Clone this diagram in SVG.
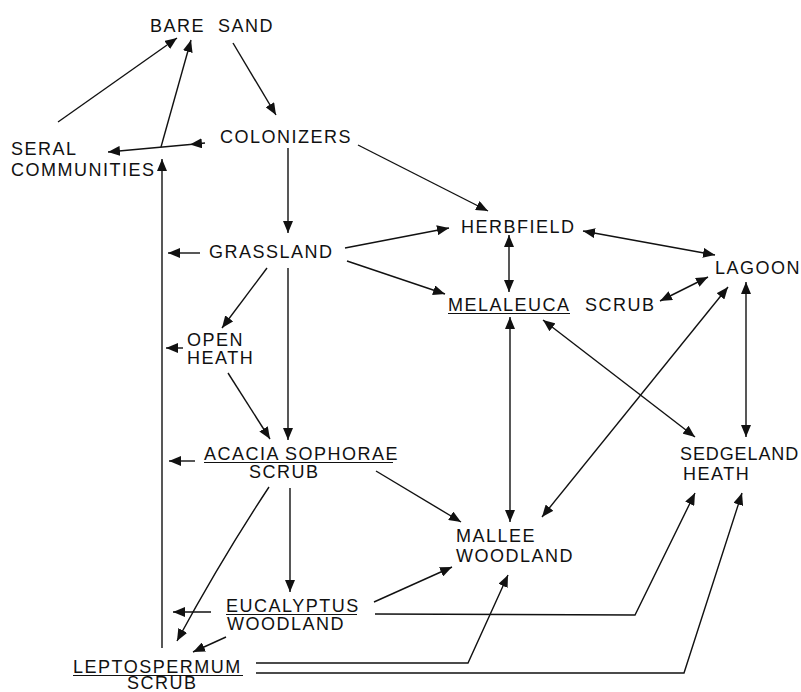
<svg xmlns="http://www.w3.org/2000/svg" width="801" height="692" viewBox="0 0 801 692">
<style>
text{font-family:"Liberation Sans",Arial,sans-serif;font-size:18px;letter-spacing:1.5px;fill:#111}
.c line,.c path,.c polyline{stroke:#111;stroke-width:1.4;fill:none}
.ul{stroke:#111;stroke-width:1.2}
</style>
<defs>
<marker id="a" viewBox="0 0 12 10" refX="12" refY="5" markerWidth="12" markerHeight="10" markerUnits="userSpaceOnUse" orient="auto-start-reverse">
<path d="M0,0 L12,5 L0,10 Z" fill="#111"/>
</marker>
</defs>
<rect width="801" height="692" fill="#fff"/>
<g id="bare-sand"><text x="150" y="32">BARE</text><text x="218" y="32">SAND</text></g>
<g id="seral-communities"><text x="11" y="155">SERAL</text><text x="11" y="176">COMMUNITIES</text></g>
<g id="colonizers"><text x="220" y="143">COLONIZERS</text></g>
<g id="grassland"><text x="209" y="258">GRASSLAND</text></g>
<g id="open-heath"><text x="187" y="346">OPEN</text><text x="187" y="364">HEATH</text></g>
<g id="herbfield"><text x="461" y="233">HERBFIELD</text></g>
<g id="lagoon"><text x="715" y="274">LAGOON</text></g>
<g id="melaleuca-scrub"><text x="448" y="311">MELALEUCA</text><text x="585" y="311">SCRUB</text><line class="ul" x1="448" y1="313.5" x2="570" y2="313.5"/></g>
<g id="acacia-sophorae-scrub"><text x="204" y="460">ACACIA</text><text x="285" y="460">SOPHORAE</text><line class="ul" x1="204" y1="462.5" x2="393" y2="462.5"/><text x="249" y="478">SCRUB</text></g>
<g id="eucalyptus-woodland"><text x="226" y="612">EUCALYPTUS</text><line class="ul" x1="226" y1="614.5" x2="357" y2="614.5"/><text x="227" y="630">WOODLAND</text></g>
<g id="leptospermum-scrub"><text x="73" y="673">LEPTOSPERMUM</text><line class="ul" x1="73" y1="675.5" x2="243" y2="675.5"/><text x="127" y="689">SCRUB</text></g>
<g id="mallee-woodland"><text x="456" y="542">MALLEE</text><text x="456" y="562">WOODLAND</text></g>
<g id="sedgeland-heath"><text x="680" y="460" style="letter-spacing:0.9px">SEDGELAND</text><text x="683" y="480">HEATH</text></g>
<g id="connectors" class="c">
<line x1="58" y1="122" x2="177" y2="38" marker-end="url(#a)"/>
<line x1="162" y1="648" x2="162" y2="159" marker-end="url(#a)"/>
<line x1="161" y1="147" x2="191" y2="40" marker-end="url(#a)"/>
<line x1="205" y1="143" x2="190" y2="144.5" marker-end="url(#a)"/>
<line x1="190" y1="144.5" x2="108" y2="152" marker-end="url(#a)"/>
<line x1="233" y1="43" x2="276" y2="115" marker-end="url(#a)"/>
<line x1="358" y1="145" x2="488" y2="211" marker-end="url(#a)"/>
<line x1="288" y1="148" x2="288" y2="233" marker-end="url(#a)"/>
<line x1="200" y1="253" x2="168" y2="253" marker-end="url(#a)"/>
<line x1="345" y1="248" x2="449" y2="228" marker-end="url(#a)"/>
<line x1="347" y1="261" x2="445" y2="294" marker-end="url(#a)"/>
<line x1="267" y1="268" x2="222" y2="328" marker-end="url(#a)"/>
<line x1="288" y1="268" x2="288" y2="440" marker-end="url(#a)"/>
<line x1="183" y1="348" x2="166" y2="348" marker-end="url(#a)"/>
<line x1="228" y1="373" x2="270" y2="439" marker-end="url(#a)"/>
<line x1="195" y1="461" x2="169" y2="461" marker-end="url(#a)"/>
<line x1="290" y1="488" x2="290" y2="592" marker-end="url(#a)"/>
<path d="M269,487 Q222,558 177,641" marker-end="url(#a)"/>
<line x1="376" y1="471" x2="461" y2="522" marker-end="url(#a)"/>
<line x1="211" y1="612" x2="173" y2="612" marker-end="url(#a)"/>
<line x1="226" y1="637" x2="193" y2="652" marker-end="url(#a)"/>
<line x1="374" y1="602" x2="452" y2="567" marker-end="url(#a)"/>
<polyline points="375,614 635,615 695,493" marker-end="url(#a)"/>
<polyline points="256,663 468,663 508,575" marker-end="url(#a)"/>
<polyline points="256,673 684,673 742,493" marker-end="url(#a)"/>
<line x1="509" y1="235" x2="509" y2="292" marker-start="url(#a)" marker-end="url(#a)"/>
<line x1="583" y1="231" x2="715" y2="255" marker-start="url(#a)" marker-end="url(#a)"/>
<line x1="660" y1="301" x2="708" y2="277" marker-start="url(#a)" marker-end="url(#a)"/>
<line x1="510" y1="317" x2="510" y2="522" marker-start="url(#a)" marker-end="url(#a)"/>
<line x1="543" y1="320" x2="695" y2="437" marker-start="url(#a)" marker-end="url(#a)"/>
<line x1="728" y1="287" x2="542" y2="517" marker-start="url(#a)" marker-end="url(#a)"/>
<line x1="746" y1="282" x2="746" y2="437" marker-start="url(#a)" marker-end="url(#a)"/>
</g>
</svg>
